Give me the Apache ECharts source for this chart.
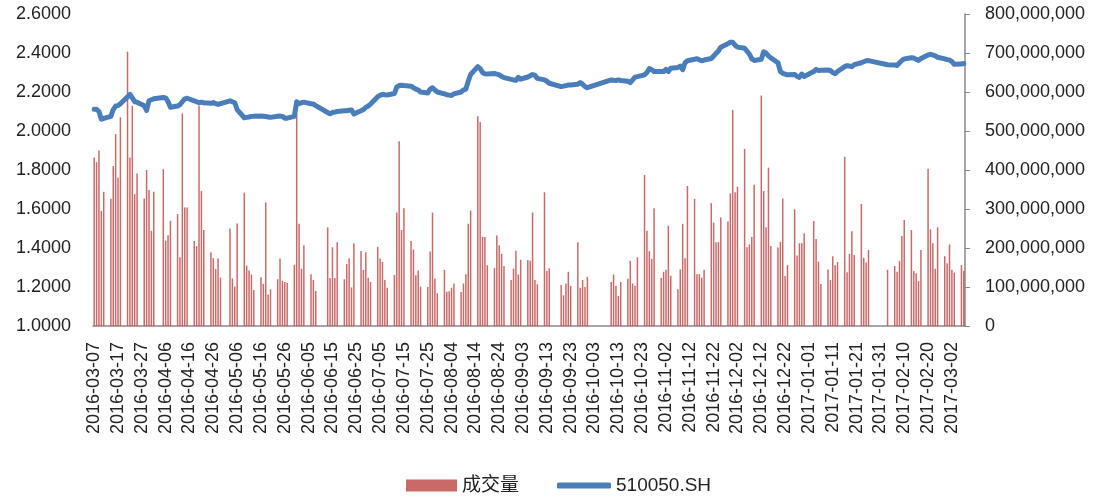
<!DOCTYPE html>
<html>
<head>
<meta charset="utf-8">
<script src="https://cdn.jsdelivr.net/npm/echarts@6/dist/echarts.min.js"></script>
<style>
    html, body { margin: 0; padding: 0; background: #fff; }
    #chart { width: 1098px; height: 497px; }
</style>
</head>
<body>
<div id="chart"></div>
<script>
// ======================
// DATA
// ======================

// 日历轴范围 (每日一格, 周末/节假日留空)
const startDate = '2016-03-07';
const endDate = '2017-03-07';

// 休市日 (工作日)
const holidays = [
    '2016-04-04', '2016-05-02', '2016-06-09', '2016-06-10',
    '2016-09-15', '2016-09-16',
    '2016-10-03', '2016-10-04', '2016-10-05', '2016-10-06', '2016-10-07',
    '2017-01-02',
    '2017-01-27', '2017-01-30', '2017-01-31', '2017-02-01', '2017-02-02'
];

// 成交量 (百万), 按交易日顺序
const volumeM = [
    432, 420, 450, 295, 344,
    326, 410, 492, 380, 535,
    703, 432, 565, 338, 391,
    327, 400, 349, 244, 344,
    402, 219, 233, 270,
    287, 176, 545, 304, 304,
    218, 205, 565, 346, 246,
    189, 174, 146, 173, 124,
    250, 122, 101, 263,
    342, 155, 142, 132, 92,
    125, 108, 317, 81, 94,
    120, 173, 116, 113, 110,
    157, 545, 262, 147, 207,
    133, 118, 90,
    253, 123, 202, 123, 215,
    120, 159, 174, 99, 212,
    192, 144, 189, 124, 113,
    203, 173, 164, 118, 98,
    131, 291, 474, 246, 302,
    218, 196, 130, 142, 101,
    100, 191, 291, 122, 84,
    144, 88, 89, 98, 109,
    87, 109, 133, 262, 296,
    538, 523, 229, 228, 156,
    149, 232, 207, 185, 154,
    118, 147, 193, 132, 170,
    169, 167, 291, 118, 107,
    343, 141, 148,
    105, 79, 109, 139, 103,
    215, 98, 118, 100, 126,
    113, 132, 103, 77, 113,
    121, 167, 109, 103, 176,
    387, 244, 192, 172, 302,
    123, 139, 144, 257, 129,
    94, 145, 262, 174, 359,
    326, 133, 133, 124, 144,
    315, 265, 215, 215, 278,
    268, 340, 554, 343, 357,
    454, 202, 209, 228, 362,
    591, 346, 253, 406, 205,
    201, 216, 327, 128, 156,
    299, 181, 212, 212, 238,
    269, 223, 165, 108,
    145, 118, 179, 156, 164,
    434, 138, 185, 243, 182,
    313, 175, 163, 195,
    144,
    154, 139, 167, 231, 272,
    246, 141, 135, 115, 195,
    403, 248, 212, 147, 253,
    179, 161, 209, 144, 137,
    156, 141
];

// 510050.SH 收盘价, 按交易日顺序
const price = [
    2.111, 2.111, 2.100, 2.060, 2.065,
    2.075, 2.110, 2.128, 2.130, 2.140,
    2.175, 2.188, 2.170, 2.150, 2.148,
    2.130, 2.105, 2.155, 2.160, 2.165,
    2.172, 2.170, 2.150, 2.122,
    2.128, 2.135, 2.150, 2.165, 2.168,
    2.155, 2.150, 2.145, 2.148, 2.145,
    2.142, 2.146, 2.140, 2.136, 2.140,
    2.155, 2.150, 2.145, 2.110,
    2.068, 2.070, 2.072, 2.075, 2.076,
    2.077, 2.076, 2.074, 2.072, 2.070,
    2.076, 2.077, 2.075, 2.066, 2.066,
    2.075, 2.150, 2.140, 2.145, 2.148,
    2.140, 2.138, 2.130,
    2.095, 2.088, 2.095, 2.097, 2.100,
    2.104, 2.104, 2.106, 2.108, 2.087,
    2.104, 2.110, 2.121, 2.128, 2.138,
    2.176, 2.183, 2.188, 2.186, 2.185,
    2.192, 2.225, 2.233, 2.235, 2.233,
    2.230, 2.222, 2.215, 2.210, 2.200,
    2.195, 2.215, 2.222, 2.210, 2.200,
    2.190, 2.186, 2.184, 2.182, 2.190,
    2.200, 2.210, 2.215, 2.255, 2.290,
    2.330, 2.320, 2.300, 2.293, 2.292,
    2.295, 2.292, 2.288, 2.280, 2.274,
    2.265, 2.262, 2.260, 2.275, 2.266,
    2.277, 2.283, 2.290, 2.285, 2.270,
    2.262, 2.255, 2.245,
    2.228, 2.230, 2.233, 2.236, 2.236,
    2.240, 2.248, 2.240, 2.228, 2.222,
    2.262, 2.260, 2.259, 2.262, 2.259,
    2.255, 2.248, 2.262, 2.276, 2.279,
    2.288, 2.300, 2.320, 2.315, 2.305,
    2.305, 2.305, 2.316, 2.305, 2.322,
    2.326, 2.333, 2.315, 2.350, 2.360,
    2.368, 2.371, 2.365, 2.360, 2.364,
    2.372, 2.385, 2.398, 2.410, 2.430,
    2.448, 2.455, 2.455, 2.440, 2.430,
    2.424, 2.410, 2.395, 2.370, 2.362,
    2.368, 2.406, 2.400, 2.385, 2.375,
    2.350, 2.305, 2.296, 2.292, 2.288,
    2.290, 2.280, 2.275, 2.292, 2.280,
    2.305, 2.316, 2.310, 2.312,
    2.313, 2.310, 2.300, 2.294, 2.305,
    2.330, 2.335, 2.333, 2.330, 2.340,
    2.350, 2.355, 2.360, 2.361,
    2.340,
    2.338, 2.336, 2.350, 2.362, 2.370,
    2.376, 2.374, 2.367, 2.362, 2.372,
    2.390, 2.393, 2.390, 2.385, 2.378,
    2.370, 2.366, 2.364, 2.356, 2.342,
    2.343, 2.346
];

// ======================
// BUILD CATEGORIES
// ======================

const DAY = 86400000;
const fmt = d => d.toISOString().slice(0, 10);
const parse = s => new Date(s + 'T00:00:00Z');

const categories = [];
const volumeData = [];
const priceData = [];
let k = 0;
for (let t = parse(startDate).getTime(); t <= parse(endDate).getTime(); t += DAY) {
    const d = new Date(t);
    const key = fmt(d);
    const wd = d.getUTCDay();
    const trading = wd !== 0 && wd !== 6 && !holidays.includes(key);
    categories.push(key);
    if (trading && k < price.length) {
        volumeData.push(volumeM[k] * 1e6);
        priceData.push(price[k]);
        k++;
    } else {
        volumeData.push(null);
        priceData.push(null);
    }
}

// ======================
// CHART
// ======================

const FONT = '"Liberation Sans", "Noto Sans CJK SC", sans-serif';
const AXIS_GRAY = '#898989';
const BAR_RED = '#c0504d';
const LINE_BLUE = '#4a7ebb';
const withCommas = v => String(Math.round(v)).replace(/\B(?=(\d{3})+(?!\d))/g, ',');
const legendText = { fontFamily: FONT, fontSize: 19, color: '#222' };

const chart = echarts.init(document.getElementById('chart'));

chart.setOption({
    animation: false,
    grid: { left: 93, right: 133, top: 14, bottom: 171, containLabel: false },
    // 两个图例: 柱状用粗矩形, 折线用细圆角条
    legend: [
        {
            top: 476,
            left: 406,
            padding: 0,
            itemWidth: 51,
            itemHeight: 12,
            textStyle: legendText,
            data: [{ name: '成交量', icon: 'rect' }]
        },
        {
            top: 476,
            left: 557,
            padding: 0,
            itemWidth: 54,
            itemHeight: 6,
            textStyle: legendText,
            data: [{ name: '510050.SH', icon: 'roundRect', itemStyle: { color: LINE_BLUE } }]
        }
    ],
    xAxis: {
        type: 'category',
        data: categories,
        boundaryGap: true,
        axisLine: { lineStyle: { color: AXIS_GRAY, width: 1.5 } },
        axisTick: { show: false },
        axisLabel: {
            interval: 9,
            rotate: 90,
            margin: 16,
            fontFamily: FONT,
            fontSize: 18,
            color: '#222'
        }
    },
    yAxis: [
        {
            type: 'value',
            min: 1,
            max: 2.6,
            interval: 0.2,
            axisLine: { show: false },
            axisTick: { show: false },
            splitLine: { show: false },
            axisLabel: {
                margin: 22,
                fontFamily: FONT,
                fontSize: 18,
                color: '#222',
                formatter: v => v.toFixed(4)
            }
        },
        {
            type: 'value',
            min: 0,
            max: 800000000,
            interval: 100000000,
            position: 'right',
            axisLine: { show: true, lineStyle: { color: AXIS_GRAY, width: 1.5 } },
            axisTick: { show: true, length: 5, lineStyle: { color: AXIS_GRAY } },
            splitLine: { show: false },
            axisLabel: {
                margin: 20,
                fontFamily: FONT,
                fontSize: 18,
                color: '#222',
                formatter: withCommas
            }
        }
    ],
    series: [
        {
            name: '成交量',
            type: 'bar',
            yAxisIndex: 1,
            barWidth: 1.5,
            itemStyle: { color: BAR_RED, opacity: 0.85 },
            data: volumeData
        },
        {
            name: '510050.SH',
            type: 'line',
            yAxisIndex: 0,
            symbol: 'none',
            connectNulls: true,
            lineStyle: { color: LINE_BLUE, width: 5, cap: 'round', join: 'round' },
            itemStyle: { color: LINE_BLUE },
            data: priceData,
            z: 3
        }
    ]
});
</script>
</body>
</html>
